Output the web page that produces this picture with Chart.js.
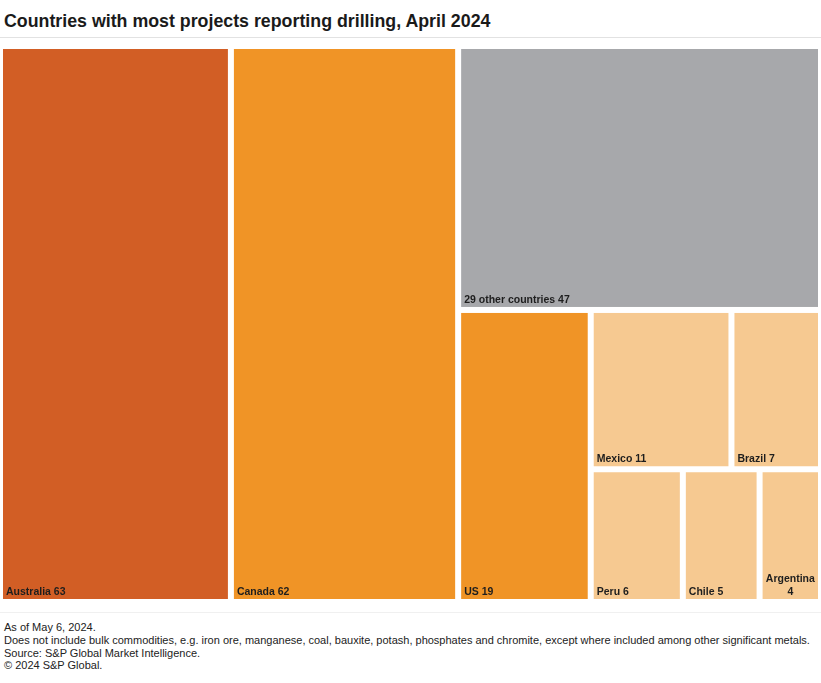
<!DOCTYPE html>
<html>
<head>
<meta charset="utf-8">
<script src="https://cdn.jsdelivr.net/npm/chart.js@4.4.1/dist/chart.umd.min.js"></script>
<style>
  body { margin: 0; width: 821px; height: 683px; position: relative; background: #fff; font-family: "Liberation Sans", Arial, sans-serif; color: #1a1a1a; overflow: hidden; }
  #title { position: absolute; left: 4px; top: 12px; font-size: 17.8px; font-weight: bold; line-height: 18px; white-space: nowrap; }
  .rule { position: absolute; left: 0; width: 821px; height: 1px; }
  #wrap { position: absolute; left: 0; top: 46px; width: 821px; height: 556px; }
  #notes { position: absolute; left: 4px; top: 621px; font-size: 11px; line-height: 12.75px; white-space: nowrap; color: #222; }
</style>
</head>
<body>
<div id="title">Countries with most projects reporting drilling, April 2024</div>
<div class="rule" style="top:37px;background:#e2e2e2"></div>
<div id="wrap"><canvas id="treemap" width="821" height="556"></canvas></div>
<div class="rule" style="top:612px;background:#f0f0f0"></div>
<div id="notes">
  As of May 6, 2024.<br>
  Does not include bulk commodities, e.g. iron ore, manganese, coal, bauxite, potash, phosphates and chromite, except where included among other significant metals.<br>
  Source: S&amp;P Global Market Intelligence.<br>
  &copy; 2024 S&amp;P Global.
</div>
<script>
// DATA
const countries = ['Australia', 'Canada', '29 other countries', 'US', 'Mexico', 'Brazil', 'Peru', 'Chile', 'Argentina'];
const projects = [63, 62, 47, 19, 11, 7, 6, 5, 4];

// STYLE
const cellColors = ['#d25e25', '#f09426', '#a7a8ab', '#f09426', '#f6c991', '#f6c991', '#f6c991', '#f6c991', '#f6c991'];
const GAP = 6;
const SQUARIFY_RATIO = 1;
const LAYOUT_ASPECT = 1.83; // layout box is 1.83 x 1, stretched to the plot area by the scales
const LABEL_FONT = 'bold 10.5px "Liberation Sans", Arial, sans-serif';

// squarified layout (same steps as d3.treemapSquarify), returns one rect per value
function squarify(values, x0, y0, x1, y1, ratio) {
    const rects = [];
    const n = values.length;
    let value = values.reduce((a, b) => a + b, 0);
    let i0 = 0, i1 = 0;
    while (i0 < n) {
        const dx = x1 - x0, dy = y1 - y0;
        let sumValue = values[i1++];
        let minValue = sumValue, maxValue = sumValue;
        const alpha = Math.max(dy / dx, dx / dy) / (value * ratio);
        let beta = sumValue * sumValue * alpha;
        let minRatio = Math.max(maxValue / beta, beta / minValue);
        for (; i1 < n; ++i1) {
            const v = values[i1];
            sumValue += v;
            if (v < minValue) minValue = v;
            if (v > maxValue) maxValue = v;
            beta = sumValue * sumValue * alpha;
            const newRatio = Math.max(maxValue / beta, beta / minValue);
            if (newRatio > minRatio) { sumValue -= v; break; }
            minRatio = newRatio;
        }
        if (dx < dy) {
            // row across the top
            const yk = y0 + dy * sumValue / value;
            let x = x0;
            for (let i = i0; i < i1; i++) {
                const w = dx * values[i] / sumValue;
                rects[i] = { x0: x, y0: y0, x1: x + w, y1: yk };
                x += w;
            }
            y0 = yk;
        } else {
            // column on the left
            const xk = x0 + dx * sumValue / value;
            let y = y0;
            for (let i = i0; i < i1; i++) {
                const h = dy * values[i] / sumValue;
                rects[i] = { x0: x0, y0: y, x1: xk, y1: y + h };
                y += h;
            }
            x0 = xk;
        }
        value -= sumValue;
        i0 = i1;
    }
    return rects;
}

function wrapLabel(ctx, text, maxWidth) {
    if (ctx.measureText(text).width <= maxWidth) return [text];
    const words = text.split(' ');
    const lines = [];
    let line = words[0];
    for (let i = 1; i < words.length; i++) {
        const test = line + ' ' + words[i];
        if (ctx.measureText(test).width <= maxWidth) line = test;
        else { lines.push(line); line = words[i]; }
    }
    lines.push(line);
    return lines;
}

const treemapCells = {
    id: 'treemapCells',
    afterDatasetsDraw(chart) {
        const { ctx, scales } = chart;
        const rects = squarify(projects, 0, 0, LAYOUT_ASPECT, 1, SQUARIFY_RATIO);
        ctx.save();
        rects.forEach((r, i) => {
            const left = scales.x.getPixelForValue(r.x0) + GAP / 2;
            const right = scales.x.getPixelForValue(r.x1) - GAP / 2;
            const top = scales.y.getPixelForValue(r.y0) + GAP / 2;
            const bottom = scales.y.getPixelForValue(r.y1) - GAP / 2;
            ctx.fillStyle = cellColors[i];
            ctx.fillRect(left, top, right - left, bottom - top);

            // label: bottom-left, wrapped and centred when too wide
            ctx.font = LABEL_FONT;
            ctx.fillStyle = '#1e1e1e';
            ctx.textBaseline = 'alphabetic';
            const text = countries[i] + ' ' + projects[i];
            const lines = wrapLabel(ctx, text, right - left - 6);
            if (lines.length === 1) {
                ctx.textAlign = 'left';
                ctx.fillText(text, left + 3, bottom - 4);
            } else {
                ctx.textAlign = 'center';
                const cx = (left + right) / 2;
                lines.forEach((ln, k) => {
                    ctx.fillText(ln, cx, bottom - 4 - (lines.length - 1 - k) * 13);
                });
            }
        });
        ctx.restore();
    }
};

new Chart(document.getElementById('treemap').getContext('2d'), {
    type: 'scatter',
    data: { datasets: [{ label: 'Projects', data: [] }] },
    options: {
        responsive: false,
        animation: false,
        layout: { padding: 0 },
        plugins: { legend: { display: false }, tooltip: { enabled: false } },
        scales: {
            x: { type: 'linear', min: 0, max: LAYOUT_ASPECT, display: false },
            y: { type: 'linear', min: 0, max: 1, reverse: true, display: false }
        }
    },
    plugins: [treemapCells]
});
</script>
</body>
</html>
